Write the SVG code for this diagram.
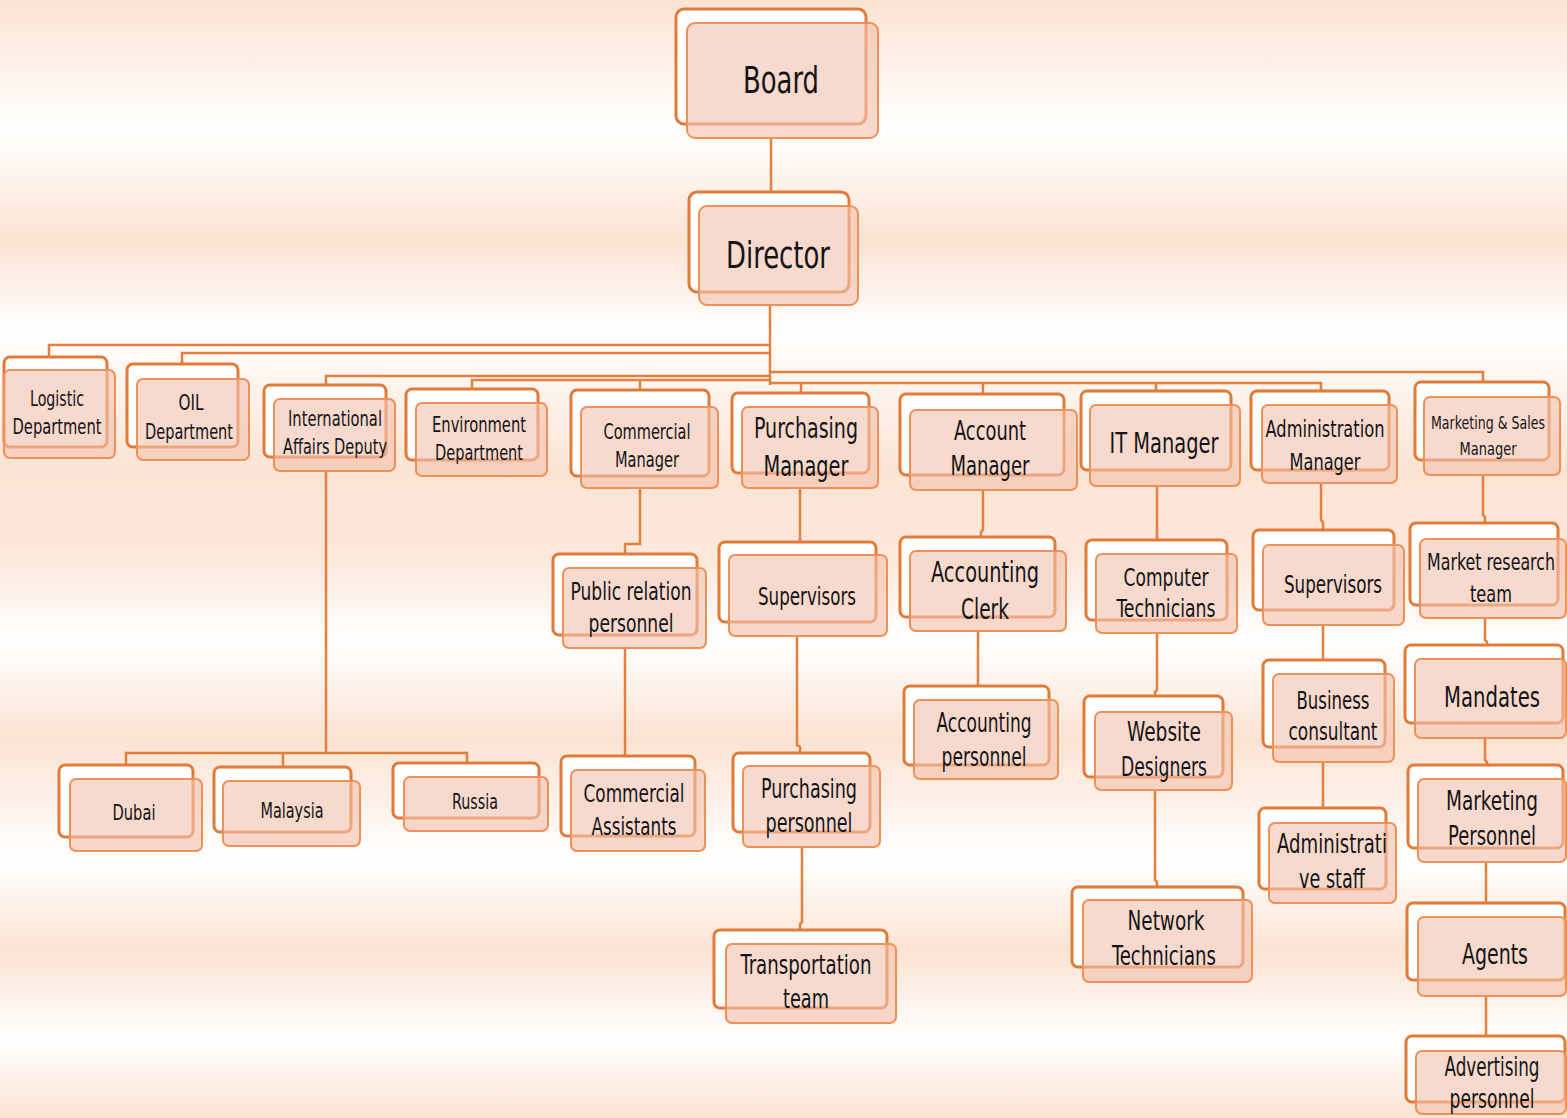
<svg xmlns="http://www.w3.org/2000/svg" width="1567" height="1118" viewBox="0 0 1567 1118">
<defs>
<linearGradient id="bg" x1="0" y1="0" x2="0" y2="1118" gradientUnits="userSpaceOnUse">
<stop offset="0" stop-color="#FBE3D2"/>
<stop offset="0.116" stop-color="#FFFFFF"/>
<stop offset="0.215" stop-color="#FBE3D2"/>
<stop offset="0.295" stop-color="#FFFFFF"/>
<stop offset="0.42" stop-color="#FBE4D4"/>
<stop offset="0.5" stop-color="#FCE8DB"/>
<stop offset="0.572" stop-color="#FFFFFF"/>
<stop offset="0.662" stop-color="#FBE3D2"/>
<stop offset="0.77" stop-color="#FFFFFF"/>
<stop offset="0.85" stop-color="#FBE3D2"/>
<stop offset="0.93" stop-color="#FFFFFF"/>
<stop offset="1" stop-color="#FBE3D2"/>
</linearGradient>
</defs>
<style>
.back{fill:#FFFFFF;stroke:#E07B39;stroke-width:3}
.front{fill:#F4C2AE;fill-opacity:0.62;stroke:#EE9159;stroke-width:2}
.t{font-family:'Liberation Sans Narrow','DejaVu Sans Condensed','Liberation Sans',sans-serif;fill:#141414;text-anchor:middle;dominant-baseline:central}
.c{fill:none;stroke:#E2803F;stroke-width:2.5}
</style>
<rect x="0" y="0" width="1567" height="1118" fill="url(#bg)"/>
<g id="connectors">
<path class="c" d="M771,138 V192"/>
<path class="c" d="M770,305 V385"/>
<path class="c" d="M770,345 H49 V357"/>
<path class="c" d="M770,353 H182 V364"/>
<path class="c" d="M770,376 H326 V385"/>
<path class="c" d="M770,380 H472 V389"/>
<path class="c" d="M640,380 V390"/>
<path class="c" d="M770,383 H1321 V391"/>
<path class="c" d="M801,383 V393"/>
<path class="c" d="M983,383 V394"/>
<path class="c" d="M1156,383 V391"/>
<path class="c" d="M770,372 H1483 V382"/>
<path class="c" d="M640,488 V544 H625 V554"/>
<path class="c" d="M800,488 V542"/>
<path class="c" d="M983,490 V530 L981,532 V537"/>
<path class="c" d="M1157,486 V540"/>
<path class="c" d="M1321,483 V520 L1323,522 V530"/>
<path class="c" d="M1483,475 V515 L1485,517 V523"/>
<path class="c" d="M326,471 V753"/>
<path class="c" d="M126,765 V753 H467 V763"/>
<path class="c" d="M283,753 V767"/>
<path class="c" d="M625,648 V756"/>
<path class="c" d="M797,636 V745 L800,747 V753"/>
<path class="c" d="M802,847 V922 L800,924 V930"/>
<path class="c" d="M978,631 V686"/>
<path class="c" d="M1157,633 V690 L1155,692 V696"/>
<path class="c" d="M1155,790 V880 L1157,882 V887"/>
<path class="c" d="M1323,625 V660"/>
<path class="c" d="M1323,762 V808"/>
<path class="c" d="M1485,618 V640 L1487,642 V645"/>
<path class="c" d="M1485,738 V760 L1487,762 V765"/>
<path class="c" d="M1486,862 V903"/>
<path class="c" d="M1486,996 V1036"/>
</g>
<g id="board"><rect class="back" x="676" y="9" width="190" height="115" rx="8"/><rect class="front" x="687" y="23" width="191" height="115" rx="8"/><text class="t" x="781" y="80" font-size="38" textLength="76" lengthAdjust="spacingAndGlyphs">Board</text></g>
<g id="director"><rect class="back" x="689" y="192" width="160" height="100" rx="8"/><rect class="front" x="699" y="206" width="159" height="99" rx="8"/><text class="t" x="778" y="255" font-size="38" textLength="104" lengthAdjust="spacingAndGlyphs">Director</text></g>
<g id="logistic"><rect class="back" x="4" y="357" width="103" height="90" rx="6"/><rect class="front" x="4" y="370" width="111" height="88" rx="6"/><text class="t" x="57" y="399" font-size="21" textLength="54" lengthAdjust="spacingAndGlyphs">Logistic</text><text class="t" x="57" y="427" font-size="21" textLength="89" lengthAdjust="spacingAndGlyphs">Department</text></g>
<g id="oil"><rect class="back" x="127" y="364" width="111" height="83" rx="6"/><rect class="front" x="137" y="379" width="112" height="81" rx="6"/><text class="t" x="191" y="403" font-size="21" textLength="25" lengthAdjust="spacingAndGlyphs">OIL</text><text class="t" x="189" y="432" font-size="21" textLength="88" lengthAdjust="spacingAndGlyphs">Department</text></g>
<g id="international"><rect class="back" x="264" y="385" width="122" height="72" rx="6"/><rect class="front" x="274" y="399" width="121" height="72" rx="6"/><text class="t" x="335" y="419" font-size="21" textLength="94" lengthAdjust="spacingAndGlyphs">International</text><text class="t" x="335" y="447" font-size="21" textLength="104" lengthAdjust="spacingAndGlyphs">Affairs Deputy</text></g>
<g id="environment"><rect class="back" x="406" y="389" width="132" height="71" rx="6"/><rect class="front" x="416" y="403" width="131" height="73" rx="6"/><text class="t" x="479" y="425" font-size="21" textLength="94" lengthAdjust="spacingAndGlyphs">Environment</text><text class="t" x="479" y="453" font-size="21" textLength="88" lengthAdjust="spacingAndGlyphs">Department</text></g>
<g id="commercial-manager"><rect class="back" x="571" y="390" width="138" height="86" rx="6"/><rect class="front" x="581" y="407" width="137" height="81" rx="6"/><text class="t" x="647" y="432" font-size="21" textLength="87" lengthAdjust="spacingAndGlyphs">Commercial</text><text class="t" x="647" y="460" font-size="21" textLength="64" lengthAdjust="spacingAndGlyphs">Manager</text></g>
<g id="purchasing-manager"><rect class="back" x="732" y="393" width="137" height="80" rx="6"/><rect class="front" x="742" y="407" width="136" height="81" rx="6"/><text class="t" x="806" y="428" font-size="28" textLength="104" lengthAdjust="spacingAndGlyphs">Purchasing</text><text class="t" x="806" y="466" font-size="28" textLength="85" lengthAdjust="spacingAndGlyphs">Manager</text></g>
<g id="account-manager"><rect class="back" x="900" y="394" width="164" height="81" rx="6"/><rect class="front" x="910" y="410" width="167" height="80" rx="6"/><text class="t" x="990" y="430" font-size="27" textLength="72" lengthAdjust="spacingAndGlyphs">Account</text><text class="t" x="990" y="465" font-size="27" textLength="79" lengthAdjust="spacingAndGlyphs">Manager</text></g>
<g id="it-manager"><rect class="back" x="1081" y="391" width="150" height="79" rx="6"/><rect class="front" x="1090" y="405" width="150" height="81" rx="6"/><text class="t" x="1164" y="443" font-size="28" textLength="109" lengthAdjust="spacingAndGlyphs">IT Manager</text></g>
<g id="administration-manager"><rect class="back" x="1251" y="391" width="138" height="79" rx="6"/><rect class="front" x="1262" y="405" width="135" height="78" rx="6"/><text class="t" x="1325" y="429" font-size="23" textLength="119" lengthAdjust="spacingAndGlyphs">Administration</text><text class="t" x="1325" y="462" font-size="23" textLength="71" lengthAdjust="spacingAndGlyphs">Manager</text></g>
<g id="marketing-sales-manager"><rect class="back" x="1415" y="382" width="134" height="78" rx="6"/><rect class="front" x="1424" y="397" width="136" height="78" rx="6"/><text class="t" x="1488" y="422" font-size="18" textLength="114" lengthAdjust="spacingAndGlyphs">Marketing &amp; Sales</text><text class="t" x="1488" y="448" font-size="18" textLength="57" lengthAdjust="spacingAndGlyphs">Manager</text></g>
<g id="public-relation"><rect class="back" x="553" y="554" width="144" height="81" rx="6"/><rect class="front" x="563" y="568" width="143" height="80" rx="6"/><text class="t" x="631" y="591" font-size="25" textLength="121" lengthAdjust="spacingAndGlyphs">Public relation</text><text class="t" x="631" y="623" font-size="25" textLength="85" lengthAdjust="spacingAndGlyphs">personnel</text></g>
<g id="supervisors-purchasing"><rect class="back" x="719" y="542" width="157" height="80" rx="6"/><rect class="front" x="729" y="555" width="158" height="81" rx="6"/><text class="t" x="807" y="596" font-size="25" textLength="98" lengthAdjust="spacingAndGlyphs">Supervisors</text></g>
<g id="accounting-clerk"><rect class="back" x="900" y="537" width="155" height="80" rx="6"/><rect class="front" x="910" y="551" width="156" height="80" rx="6"/><text class="t" x="985" y="572" font-size="28" textLength="108" lengthAdjust="spacingAndGlyphs">Accounting</text><text class="t" x="985" y="609" font-size="28" textLength="48" lengthAdjust="spacingAndGlyphs">Clerk</text></g>
<g id="computer-technicians"><rect class="back" x="1086" y="540" width="141" height="80" rx="6"/><rect class="front" x="1096" y="554" width="141" height="79" rx="6"/><text class="t" x="1166" y="577" font-size="25" textLength="85" lengthAdjust="spacingAndGlyphs">Computer</text><text class="t" x="1166" y="608" font-size="25" textLength="99" lengthAdjust="spacingAndGlyphs">Technicians</text></g>
<g id="supervisors-admin"><rect class="back" x="1253" y="530" width="141" height="80" rx="6"/><rect class="front" x="1263" y="545" width="141" height="80" rx="6"/><text class="t" x="1333" y="584" font-size="25" textLength="98" lengthAdjust="spacingAndGlyphs">Supervisors</text></g>
<g id="market-research"><rect class="back" x="1410" y="523" width="148" height="82" rx="6"/><rect class="front" x="1420" y="539" width="146" height="79" rx="6"/><text class="t" x="1491" y="562" font-size="23" textLength="128" lengthAdjust="spacingAndGlyphs">Market research</text><text class="t" x="1491" y="594" font-size="23" textLength="42" lengthAdjust="spacingAndGlyphs">team</text></g>
<g id="dubai"><rect class="back" x="59" y="765" width="134" height="72" rx="6"/><rect class="front" x="70" y="779" width="132" height="72" rx="6"/><text class="t" x="134" y="813" font-size="21" textLength="43" lengthAdjust="spacingAndGlyphs">Dubai</text></g>
<g id="malaysia"><rect class="back" x="214" y="767" width="137" height="65" rx="6"/><rect class="front" x="223" y="781" width="137" height="65" rx="6"/><text class="t" x="292" y="811" font-size="21" textLength="63" lengthAdjust="spacingAndGlyphs">Malaysia</text></g>
<g id="russia"><rect class="back" x="393" y="763" width="146" height="55" rx="6"/><rect class="front" x="404" y="777" width="144" height="54" rx="6"/><text class="t" x="475" y="802" font-size="21" textLength="46" lengthAdjust="spacingAndGlyphs">Russia</text></g>
<g id="commercial-assistants"><rect class="back" x="561" y="756" width="134" height="80" rx="6"/><rect class="front" x="571" y="770" width="134" height="81" rx="6"/><text class="t" x="634" y="793" font-size="25" textLength="101" lengthAdjust="spacingAndGlyphs">Commercial</text><text class="t" x="634" y="826" font-size="25" textLength="85" lengthAdjust="spacingAndGlyphs">Assistants</text></g>
<g id="purchasing-personnel"><rect class="back" x="733" y="753" width="137" height="79" rx="6"/><rect class="front" x="743" y="766" width="137" height="81" rx="6"/><text class="t" x="809" y="789" font-size="26" textLength="96" lengthAdjust="spacingAndGlyphs">Purchasing</text><text class="t" x="809" y="823" font-size="26" textLength="87" lengthAdjust="spacingAndGlyphs">personnel</text></g>
<g id="transportation-team"><rect class="back" x="714" y="930" width="173" height="78" rx="6"/><rect class="front" x="726" y="944" width="170" height="79" rx="6"/><text class="t" x="806" y="965" font-size="26" textLength="131" lengthAdjust="spacingAndGlyphs">Transportation</text><text class="t" x="806" y="999" font-size="26" textLength="46" lengthAdjust="spacingAndGlyphs">team</text></g>
<g id="accounting-personnel"><rect class="back" x="904" y="686" width="145" height="79" rx="6"/><rect class="front" x="914" y="700" width="144" height="79" rx="6"/><text class="t" x="984" y="723" font-size="26" textLength="95" lengthAdjust="spacingAndGlyphs">Accounting</text><text class="t" x="984" y="757" font-size="26" textLength="85" lengthAdjust="spacingAndGlyphs">personnel</text></g>
<g id="website-designers"><rect class="back" x="1084" y="696" width="139" height="81" rx="6"/><rect class="front" x="1095" y="712" width="137" height="78" rx="6"/><text class="t" x="1164" y="732" font-size="26" textLength="74" lengthAdjust="spacingAndGlyphs">Website</text><text class="t" x="1164" y="767" font-size="26" textLength="86" lengthAdjust="spacingAndGlyphs">Designers</text></g>
<g id="network-technicians"><rect class="back" x="1072" y="887" width="171" height="80" rx="6"/><rect class="front" x="1083" y="900" width="169" height="82" rx="6"/><text class="t" x="1166" y="921" font-size="26" textLength="77" lengthAdjust="spacingAndGlyphs">Network</text><text class="t" x="1164" y="956" font-size="26" textLength="104" lengthAdjust="spacingAndGlyphs">Technicians</text></g>
<g id="business-consultant"><rect class="back" x="1263" y="660" width="122" height="87" rx="6"/><rect class="front" x="1273" y="674" width="121" height="88" rx="6"/><text class="t" x="1333" y="700" font-size="25" textLength="73" lengthAdjust="spacingAndGlyphs">Business</text><text class="t" x="1333" y="731" font-size="25" textLength="89" lengthAdjust="spacingAndGlyphs">consultant</text></g>
<g id="administrative-staff"><rect class="back" x="1259" y="808" width="127" height="81" rx="6"/><rect class="front" x="1269" y="823" width="127" height="80" rx="6"/><text class="t" x="1332" y="843" font-size="27" textLength="110" lengthAdjust="spacingAndGlyphs">Administrati</text><text class="t" x="1332" y="878" font-size="27" textLength="66" lengthAdjust="spacingAndGlyphs">ve staff</text></g>
<g id="mandates"><rect class="back" x="1405" y="645" width="158" height="78" rx="6"/><rect class="front" x="1415" y="659" width="151" height="79" rx="6"/><text class="t" x="1492" y="697" font-size="29" textLength="96" lengthAdjust="spacingAndGlyphs">Mandates</text></g>
<g id="marketing-personnel"><rect class="back" x="1408" y="765" width="155" height="83" rx="6"/><rect class="front" x="1418" y="779" width="148" height="83" rx="6"/><text class="t" x="1492" y="801" font-size="26" textLength="92" lengthAdjust="spacingAndGlyphs">Marketing</text><text class="t" x="1492" y="836" font-size="26" textLength="88" lengthAdjust="spacingAndGlyphs">Personnel</text></g>
<g id="agents"><rect class="back" x="1407" y="903" width="158" height="77" rx="6"/><rect class="front" x="1418" y="917" width="148" height="79" rx="6"/><text class="t" x="1495" y="954" font-size="29" textLength="66" lengthAdjust="spacingAndGlyphs">Agents</text></g>
<g id="advertising-personnel"><rect class="back" x="1406" y="1036" width="159" height="66" rx="6"/><rect class="front" x="1416" y="1051" width="150" height="63" rx="6"/><text class="t" x="1492" y="1067" font-size="26" textLength="95" lengthAdjust="spacingAndGlyphs">Advertising</text><text class="t" x="1492" y="1099" font-size="26" textLength="85" lengthAdjust="spacingAndGlyphs">personnel</text></g>
</svg>
